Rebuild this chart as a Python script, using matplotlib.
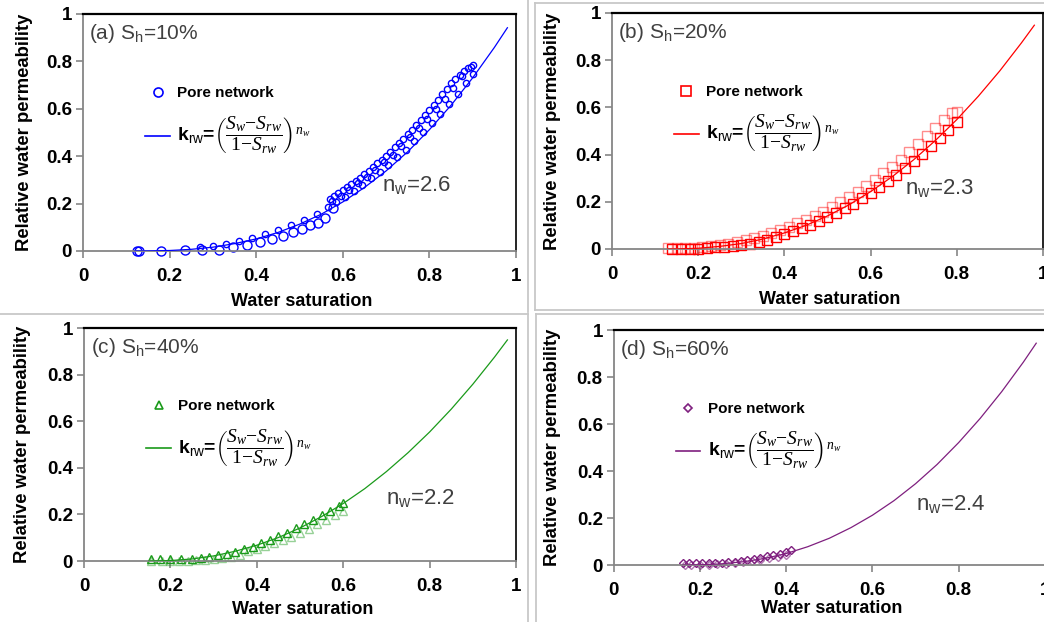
import matplotlib
matplotlib.use('Agg')
import matplotlib.pyplot as plt
from matplotlib.lines import Line2D
from matplotlib.ticker import MultipleLocator, FuncFormatter

plt.rcParams['font.family'] = ['Liberation Sans', 'DejaVu Sans']
plt.rcParams['mathtext.fontset'] = 'custom'
plt.rcParams['mathtext.rm'] = 'Liberation Serif'
plt.rcParams['mathtext.it'] = 'Liberation Serif:italic'
plt.rcParams['mathtext.sf'] = 'Liberation Sans'

# ---- (a) Sh = 10 %
a_sw_big = [0.124, 0.13, 0.18, 0.235, 0.274, 0.313, 0.347, 0.378, 0.409, 0.436,
            0.461, 0.484, 0.505, 0.524, 0.543, 0.559, 0.578]
a_kr_big = [0.0, 0.0, 0.0, 0.003, 0.005, 0.006, 0.018, 0.027, 0.038, 0.052,
            0.065, 0.078, 0.094, 0.108, 0.12, 0.138, 0.18]
a_sw_up = [0.57, 0.58, 0.59, 0.60, 0.61, 0.62, 0.63, 0.64, 0.65, 0.66, 0.67, 0.68,
           0.69, 0.70, 0.71, 0.72, 0.73, 0.74, 0.75, 0.76, 0.77, 0.78, 0.79, 0.80,
           0.81, 0.82, 0.83, 0.84, 0.85, 0.86, 0.87, 0.88, 0.89, 0.90]
a_kr_up = [0.219, 0.231, 0.243, 0.256, 0.268, 0.282, 0.296, 0.310, 0.324, 0.338,
           0.354, 0.370, 0.386, 0.402, 0.419, 0.437, 0.456, 0.474, 0.493, 0.512,
           0.532, 0.553, 0.573, 0.594, 0.615, 0.638, 0.661, 0.684, 0.707, 0.725,
           0.742, 0.758, 0.772, 0.785]
a_sw_in = [0.575, 0.595, 0.615, 0.635, 0.655, 0.675, 0.695, 0.715, 0.735, 0.755,
           0.775, 0.795, 0.815, 0.835, 0.855, 0.875, 0.895]
a_kr_in = [0.211, 0.234, 0.259, 0.285, 0.313, 0.342, 0.374, 0.407, 0.442, 0.479,
           0.518, 0.558, 0.600, 0.643, 0.689, 0.738, 0.775]
a_sw_mid = [0.27, 0.30, 0.33, 0.36, 0.39, 0.42, 0.45, 0.48, 0.51, 0.54, 0.565,
            0.585, 0.605, 0.625, 0.645, 0.665, 0.685, 0.705, 0.725, 0.745, 0.765,
            0.785, 0.805, 0.825, 0.845, 0.865, 0.885, 0.90]
a_kr_mid = [0.016, 0.022, 0.031, 0.042, 0.055, 0.07, 0.088, 0.108, 0.13, 0.155,
            0.185, 0.205, 0.229, 0.254, 0.279, 0.306, 0.334, 0.364, 0.395, 0.428,
            0.463, 0.5, 0.538, 0.578, 0.62, 0.664, 0.71, 0.745]
a_fit_sw = [0.12, 0.15, 0.20, 0.25, 0.30, 0.35, 0.40, 0.45, 0.50, 0.55, 0.60, 0.65,
            0.70, 0.75, 0.80, 0.85, 0.90, 0.95, 0.98]
a_fit_kr = [0.0, 0.0, 0.002, 0.007, 0.016, 0.031, 0.051, 0.078, 0.113, 0.155, 0.207,
            0.268, 0.338, 0.419, 0.512, 0.615, 0.731, 0.859, 0.942]

# ---- (b) Sh = 20 %
b_sw_up = [0.13, 0.15, 0.17, 0.19, 0.21, 0.23, 0.25, 0.27, 0.29, 0.31, 0.33, 0.35,
           0.37, 0.39, 0.41, 0.43, 0.45, 0.47, 0.49, 0.51, 0.53, 0.55, 0.57, 0.59,
           0.61, 0.63, 0.65, 0.67, 0.69, 0.71, 0.73, 0.75, 0.77, 0.79, 0.80]
b_kr_up = [0.005, 0.005, 0.005, 0.005, 0.009, 0.013, 0.018, 0.023, 0.030, 0.038,
           0.047, 0.057, 0.068, 0.080, 0.093, 0.108, 0.123, 0.140, 0.158, 0.177,
           0.198, 0.220, 0.243, 0.267, 0.293, 0.320, 0.348, 0.378, 0.410, 0.443,
           0.477, 0.512, 0.548, 0.575, 0.58]
b_sw_low = [0.14, 0.16, 0.18, 0.20, 0.22, 0.24, 0.26, 0.28, 0.30, 0.32, 0.34, 0.36,
            0.38, 0.40, 0.42, 0.44, 0.46, 0.48, 0.50, 0.52, 0.54, 0.56, 0.58, 0.60,
            0.62, 0.64, 0.66, 0.68, 0.70, 0.72, 0.74, 0.76, 0.78, 0.80]
b_kr_low = [0.0, 0.0, 0.0, 0.002, 0.004, 0.007, 0.009, 0.013, 0.017, 0.022, 0.030,
            0.040, 0.052, 0.062, 0.075, 0.088, 0.102, 0.118, 0.134, 0.152, 0.172,
            0.192, 0.214, 0.236, 0.262, 0.288, 0.315, 0.343, 0.372, 0.404, 0.437,
            0.470, 0.506, 0.540]
b_fit_sw = [0.13, 0.15, 0.20, 0.25, 0.30, 0.35, 0.40, 0.45, 0.50, 0.55, 0.60, 0.65,
            0.70, 0.75, 0.80, 0.85, 0.90, 0.95, 0.98]
b_fit_kr = [0.0, 0.0, 0.003, 0.011, 0.023, 0.042, 0.068, 0.100, 0.140, 0.187, 0.243,
            0.306, 0.378, 0.459, 0.548, 0.647, 0.755, 0.873, 0.948]

# ---- (c) Sh = 40 %
c_sw_up = [0.155, 0.175, 0.20, 0.225, 0.25, 0.27, 0.29, 0.31, 0.33, 0.35, 0.37,
           0.39, 0.41, 0.43, 0.45, 0.47, 0.49, 0.51, 0.53, 0.55, 0.57, 0.59, 0.60]
c_kr_up = [0.01, 0.008, 0.008, 0.008, 0.01, 0.014, 0.018, 0.024, 0.031, 0.04, 0.05,
           0.062, 0.076, 0.09, 0.106, 0.122, 0.14, 0.158, 0.177, 0.196, 0.216,
           0.236, 0.248]
c_sw_low = [0.155, 0.18, 0.20, 0.22, 0.24, 0.26, 0.28, 0.30, 0.32, 0.34, 0.36, 0.38,
            0.40, 0.42, 0.44, 0.46, 0.48, 0.50, 0.52, 0.54, 0.56, 0.58, 0.60]
c_kr_low = [0.0, 0.0, 0.0, 0.0, 0.001, 0.003, 0.006, 0.009, 0.013, 0.018, 0.025,
            0.042, 0.052, 0.063, 0.076, 0.09, 0.105, 0.121, 0.139, 0.158, 0.178,
            0.198, 0.215]
c_fit_sw = [0.15, 0.20, 0.25, 0.30, 0.35, 0.40, 0.45, 0.50, 0.55, 0.60, 0.65, 0.70,
            0.75, 0.80, 0.85, 0.90, 0.95, 0.98]
c_fit_kr = [0.0, 0.002, 0.009, 0.022, 0.042, 0.068, 0.101, 0.142, 0.191, 0.247,
            0.311, 0.384, 0.465, 0.554, 0.652, 0.759, 0.875, 0.949]

# ---- (d) Sh = 60 %
d_sw_up = [0.16, 0.175, 0.19, 0.205, 0.22, 0.235, 0.25, 0.265, 0.28, 0.295, 0.31,
           0.325, 0.34, 0.355, 0.37, 0.385, 0.40, 0.41]
d_kr_up = [0.008, 0.008, 0.008, 0.008, 0.008, 0.008, 0.009, 0.011, 0.014, 0.018,
           0.022, 0.027, 0.032, 0.037, 0.043, 0.049, 0.056, 0.062]
d_sw_low = [0.165, 0.18, 0.20, 0.22, 0.24, 0.26, 0.28, 0.30, 0.32, 0.34, 0.36, 0.38,
            0.40]
d_kr_low = [0.0, 0.0, 0.0, 0.001, 0.003, 0.005, 0.008, 0.012, 0.017, 0.023, 0.029,
            0.036, 0.044]
d_fit_sw = [0.16, 0.20, 0.25, 0.30, 0.35, 0.40, 0.45, 0.50, 0.55, 0.60, 0.65, 0.70,
            0.75, 0.80, 0.85, 0.90, 0.95, 0.98]
d_fit_kr = [0.0, 0.001, 0.005, 0.014, 0.028, 0.049, 0.078, 0.114, 0.159, 0.212,
            0.274, 0.346, 0.428, 0.521, 0.624, 0.738, 0.863, 0.944]

titles = ['(a) S$_\\mathsf{h}$=10%', '(b) S$_\\mathsf{h}$=20%',
          '(c) S$_\\mathsf{h}$=40%', '(d) S$_\\mathsf{h}$=60%']
nw_labels = ['n$_\\mathsf{w}$=2.6', 'n$_\\mathsf{w}$=2.3',
             'n$_\\mathsf{w}$=2.2', 'n$_\\mathsf{w}$=2.4']
formula = (r'k$_{\mathsf{rw}}$=$\left(\dfrac{S_w\mathrm{-}S_{rw}}{1\mathrm{-}S_{rw}}\right)^{n_w}$')

panels = [
    dict(rect=[0.0795, 0.5965, 0.4148, 0.381], color='#0000FF', marker='o',
         sets=[(a_sw_big, a_kr_big, 6.5, 1.0), (a_sw_mid, a_kr_mid, 4.5, 1.0),
               (a_sw_in, a_kr_in, 4.5, 1.0), (a_sw_up, a_kr_up, 4.5, 1.0)],
         fit=(a_fit_sw, a_fit_kr), legms=6.5, nwpos=(0.69, 0.28), xlab_y=-0.215,
         ylab_x=-0.136),
    dict(rect=[0.5862, 0.5997, 0.4128, 0.3795], color='#FF0000', marker='s',
         sets=[(b_sw_up, b_kr_up, 6.5, 0.45), (b_sw_low, b_kr_low, 6.5, 1.0)],
         fit=(b_fit_sw, b_fit_kr), legms=6.5, nwpos=(0.68, 0.26), xlab_y=-0.216,
         ylab_x=-0.139),
    dict(rect=[0.0805, 0.098, 0.4138, 0.3746], color='#1A9A1A', marker='^',
         sets=[(c_sw_low, c_kr_low, 6, 0.45), (c_sw_up, c_kr_up, 6, 1.0)],
         fit=(c_fit_sw, c_fit_kr), legms=6, nwpos=(0.70, 0.27), xlab_y=-0.206,
         ylab_x=-0.143),
    dict(rect=[0.588, 0.0916, 0.4128, 0.3778], color='#7F1F7F', marker='D',
         sets=[(d_sw_low, d_kr_low, 4.5, 0.6), (d_sw_up, d_kr_up, 4.5, 1.0)],
         fit=(d_fit_sw, d_fit_kr), legms=4.5, nwpos=(0.70, 0.26), xlab_y=-0.187,
         ylab_x=-0.142),
]

fig = plt.figure(figsize=(10.44, 6.22), dpi=100)

for i, p in enumerate(panels):
    ax = fig.add_axes(p['rect'])
    col = p['color']
    for sw, kr, ms, al in p['sets']:
        ax.plot(sw, kr, ls='none', marker=p['marker'], ms=ms, mfc='none',
                mec=col, mew=1.0, alpha=al, zorder=2, clip_on=False)
    ax.plot(p['fit'][0], p['fit'][1], color=col, lw=0.9, zorder=3)

    ax.set_xlim(0, 1)
    ax.set_ylim(0, 1)
    ax.xaxis.set_major_locator(MultipleLocator(0.2))
    ax.yaxis.set_major_locator(MultipleLocator(0.2))
    fmt = FuncFormatter(lambda v, pos: '%g' % round(v, 1))
    ax.xaxis.set_major_formatter(fmt)
    ax.yaxis.set_major_formatter(fmt)
    ax.tick_params(direction='out', length=5, width=1.2, color='#868686',
                   labelsize=13.5, pad=3)
    ax.tick_params(axis='x', pad=7)
    for lab in ax.get_xticklabels() + ax.get_yticklabels():
        lab.set_fontweight('bold')
    for s in ('left', 'bottom'):
        ax.spines[s].set_color('#868686')
        ax.spines[s].set_linewidth(1.3)
    ax.spines['top'].set_color('black')
    ax.spines['top'].set_linewidth(1.6)
    ax.spines['right'].set_color('black')
    ax.spines['right'].set_linewidth(1.2)

    ax.set_ylabel('Relative water permeability', fontsize=13.3, fontweight='bold')
    ax.set_xlabel('Water saturation', fontsize=13, fontweight='bold')
    ax.yaxis.label.set_va('center')
    ax.yaxis.set_label_coords(p['ylab_x'], 0.5)
    ax.xaxis.label.set_va('center')
    ax.xaxis.set_label_coords(0.505, p['xlab_y'])

    ax.text(0.015, 0.965, titles[i], transform=ax.transAxes, fontsize=15,
            color='#404040', va='top', ha='left')
    ax.text(p['nwpos'][0], p['nwpos'][1], nw_labels[i], transform=ax.transAxes,
            fontsize=16, color='#404040', va='center', ha='left')

    handles = [Line2D([], [], ls='none', marker=p['marker'], ms=p['legms'],
                      mfc='none', mec=col, mew=1.2),
               Line2D([], [], color=col, lw=1.2)]
    leg = ax.legend(handles, ['Pore network', formula], loc='upper left',
                    bbox_to_anchor=(0.13, 0.72), frameon=False,
                    prop=dict(size=11, weight='bold'), handlelength=1.6,
                    handletextpad=0.5, labelspacing=0.9, borderaxespad=0)
    leg.get_texts()[1].set_fontsize(14)

# light grey frames around the sub-figures
grey = '#C8C8C8'
W, H = 1044.0, 622.0
segs = [((528, 0), (528, 312)), ((535, 3), (535, 310)), ((535, 3), (1044, 3)),
        ((535, 310), (1044, 310)), ((0, 314), (528, 314)), ((528, 314), (528, 622)),
        ((536, 314), (1044, 314)), ((536, 314), (536, 622))]
for (x0, y0), (x1, y1) in segs:
    fig.add_artist(Line2D([x0 / W, x1 / W], [1 - y0 / H, 1 - y1 / H],
                          transform=fig.transFigure, color=grey, lw=1.3))

fig.savefig('out.png', dpi=100)
